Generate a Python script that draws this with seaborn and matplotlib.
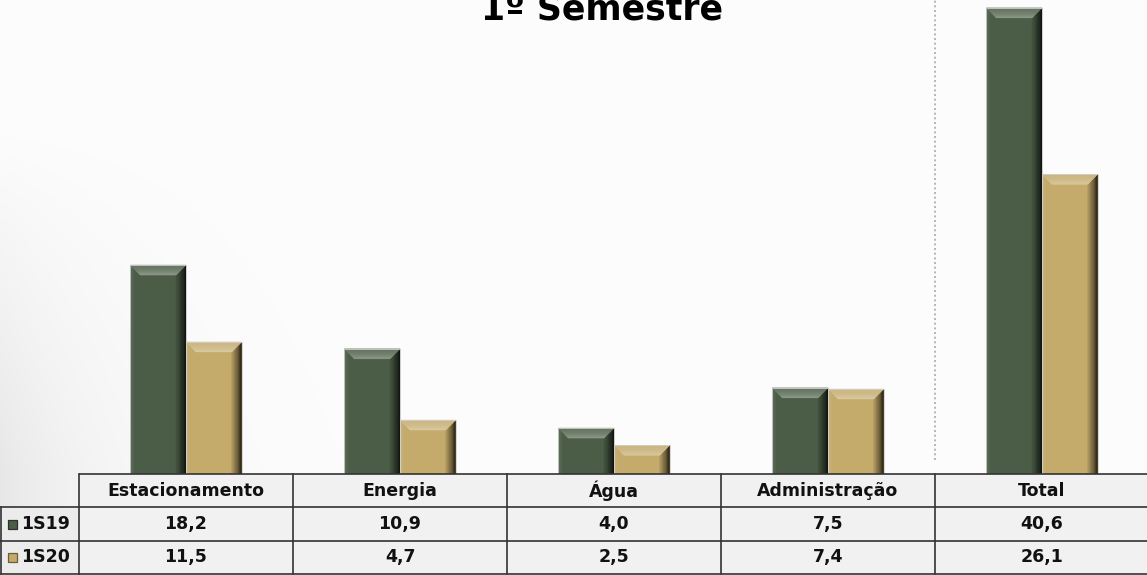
import numpy as np
import pandas as pd
import matplotlib
matplotlib.use("Agg")
import matplotlib.pyplot as plt
import matplotlib.colors as mcolors
import matplotlib.transforms as mtransforms
from matplotlib.patches import Polygon, Rectangle
import seaborn as sns

# ---- data -------------------------------------------------------------
categories = ["Estacionamento", "Energia", "Água", "Administração", "Total"]
series_names = ["1S19", "1S20"]
values_1s19 = [18.2, 10.9, 4.0, 7.5, 40.6]
values_1s20 = [11.5, 4.7, 2.5, 7.4, 26.1]
title_text = "1º Semestre"

palette = {"1S19": "#4b5d46", "1S20": "#c4aa6b"}

df = pd.DataFrame({
    "categoria": categories * 2,
    "serie": [series_names[0]] * len(categories) + [series_names[1]] * len(categories),
    "valor": values_1s19 + values_1s20,
})

sns.set_theme(style="white")
plt.rcParams["font.family"] = ["DejaVu Sans"]

W, H = 1147, 575
fig = plt.figure(figsize=(W / 100, H / 100), dpi=100)
fig.patch.set_facecolor("white")


def fy(py):
    """pixel row (from top) -> figure fraction"""
    return 1 - py / H


def fx(px):
    return px / W


# ---- soft grey backdrop ------------------------------------------------
bg = fig.add_axes([0, 0, 1, 1], zorder=-10)
gx = np.arange(W)
gy = np.arange(H)
GX, GY = np.meshgrid(gx, gy)
shade = 0.085 * np.exp(-GX / 110.0) * np.clip((GY - 120) / 350.0, 0, 1)
shade += 0.008
shade[GY > 565] = 0
img = np.clip(1 - shade, 0, 1)
bg.imshow(np.dstack([img, img, img]), aspect="auto", extent=[0, 1, 0, 1],
          interpolation="bilinear")
bg.set_xlim(0, 1)
bg.set_ylim(0, 1)
bg.axis("off")

# ---- bars --------------------------------------------------------------
ax_left, ax_bottom_px, ax_width_px, ax_top_px = 79, 474, 1070, 0
ax = fig.add_axes([fx(ax_left), fy(ax_bottom_px), ax_width_px / W,
                   (ax_bottom_px - ax_top_px) / H])
ax.patch.set_alpha(0)
px_per_unit = 11.48
sns.barplot(data=df, x="categoria", y="valor", hue="serie", palette=palette,
            width=0.52, gap=0, saturation=1, linewidth=0, legend=False,
            ax=ax, order=categories, hue_order=series_names)
ax.set_xlim(-0.5, len(categories) - 0.5)
ax.set_ylim(0, (ax_bottom_px - ax_top_px) / px_per_unit)
ax.axis("off")

# bevelled look on every bar
bx = 10 / (ax_width_px / len(categories))
by = 10 / px_per_unit


def mix(c, other, t):
    c = np.array(mcolors.to_rgb(c))
    o = np.array(mcolors.to_rgb(other))
    return tuple(c * (1 - t) + o * t)


for bar in list(ax.patches):
    x0, w, h = bar.get_x(), bar.get_width(), bar.get_height()
    if h <= 0:
        continue
    x1 = x0 + w
    face = bar.get_facecolor()
    # right shaded side, darker towards the edge
    n = 12
    for k in range(n):
        xa = x1 - bx + k * bx / n
        xb = xa + bx / n
        ta = h - by * (x1 - xa) / bx
        tb = h - by * (x1 - xb) / bx
        col = mix(face, "black", 0.10 + 0.72 * ((k + 0.5) / n) ** 1.3)
        ax.add_patch(Polygon([(xa, 0), (xb, 0), (xb, tb), (xa, ta)],
                             closed=True, facecolor=col, edgecolor=col,
                             linewidth=0.3, zorder=3))
    # left side, slightly lighter
    for k in range(4):
        xa = x0 + k * bx * 0.35 / 4
        xb = xa + bx * 0.35 / 4
        ta = h - by * (xa - x0) / bx
        tb = h - by * (xb - x0) / bx
        col = mix(face, "white", 0.14 * (1 - k / 4))
        ax.add_patch(Polygon([(xa, 0), (xb, 0), (xb, tb), (xa, ta)],
                             closed=True, facecolor=col, edgecolor="none",
                             zorder=3))
    # top face with gradient, brighter along its lower rim
    m = 10
    for k in range(m):
        ya = h - by * k / m
        yb = h - by * (k + 1) / m
        fa = k / m
        fb = (k + 1) / m
        t = (k + 0.5) / m
        col = mix(face, "white", 0.16 + 0.22 * t ** 2)
        ax.add_patch(Polygon([(x0 + bx * fa, ya), (x1 - bx * fa, ya),
                              (x1 - bx * fb, yb), (x0 + bx * fb, yb)],
                             closed=True, facecolor=col, edgecolor=col,
                             linewidth=0.3, zorder=4))
    # light rim
    ax.add_patch(Rectangle((x0, 0), w, h, facecolor="none",
                           edgecolor="#cfcfcf", linewidth=0.6, zorder=5))

# dotted separator before the total
sep = len(categories) - 1.5
ax.axvline(sep, ymin=14 / 474, ymax=1, color="#b5b5b5",
           linestyle=(0, (1, 1.4)), linewidth=1.4, zorder=1)

# ---- title ---------------------------------------------------------------
fig.text(fx(602), fy(19), title_text, ha="center", va="baseline",
         fontsize=25, fontweight="bold", color="black")

# ---- data table ------------------------------------------------------------
tr = mtransforms.blended_transform_factory(ax.transData, fig.transFigure)
row_edges = [474, 507, 541, 573.5]
line_col = "#333333"
cell_fill = "#f1f1f1"
lw = 1.2
x_lo = -0.5
x_hi = len(categories) - 0.5

# cell fills
for r in range(3):
    fig.add_artist(Rectangle((x_lo, fy(row_edges[r + 1])), x_hi - x_lo,
                             fy(row_edges[r]) - fy(row_edges[r + 1]),
                             transform=tr, facecolor=cell_fill,
                             edgecolor="none", zorder=-1, clip_on=False))
for r in range(1, 3):
    fig.add_artist(Rectangle((0, fy(row_edges[r + 1])), fx(ax_left),
                             fy(row_edges[r]) - fy(row_edges[r + 1]),
                             transform=fig.transFigure, facecolor="#ececec",
                             edgecolor="none", zorder=-1))

# horizontal rules
for i, py in enumerate(row_edges):
    if i > 0:
        fig.add_artist(plt.Line2D([0, fx(ax_left)], [fy(py), fy(py)],
                                  transform=fig.transFigure, color=line_col,
                                  lw=lw))
    fig.add_artist(plt.Line2D([x_lo, x_hi], [fy(py), fy(py)], transform=tr,
                              color=line_col, lw=lw))
# vertical rules
for i in range(len(categories) + 1):
    xv = x_lo + i
    fig.add_artist(plt.Line2D([xv, xv], [fy(row_edges[0]), fy(row_edges[-1])],
                              transform=tr, color=line_col, lw=lw))
fig.add_artist(plt.Line2D([fx(0.8), fx(0.8)], [fy(row_edges[1]), fy(row_edges[-1])],
                          transform=fig.transFigure, color=line_col, lw=lw))

text_kw = dict(fontsize=12.5, fontweight="bold", color="#111111",
               ha="center", va="center")
for i, cat in enumerate(categories):
    fig.text(i, fy((row_edges[0] + row_edges[1]) / 2), cat, transform=tr,
             **text_kw)
    fig.text(i, fy((row_edges[1] + row_edges[2]) / 2),
             f"{values_1s19[i]:.1f}".replace(".", ","), transform=tr, **text_kw)
    fig.text(i, fy((row_edges[2] + row_edges[3]) / 2),
             f"{values_1s20[i]:.1f}".replace(".", ","), transform=tr, **text_kw)

# row headers with colour keys
for r, name in enumerate(series_names):
    yc = (row_edges[r + 1] + row_edges[r + 2]) / 2
    key = 9
    fig.add_artist(Rectangle((fx(8), fy(yc + key / 2)), key / W, key / H,
                             transform=fig.transFigure,
                             facecolor=palette[name],
                             edgecolor=mix(palette[name], "black", 0.45),
                             linewidth=0.9))
    fig.text(fx(21), fy(yc), name, ha="left", va="center", fontsize=12.5,
             fontweight="bold", color="#111111")

fig.savefig("out.png", dpi=100)
